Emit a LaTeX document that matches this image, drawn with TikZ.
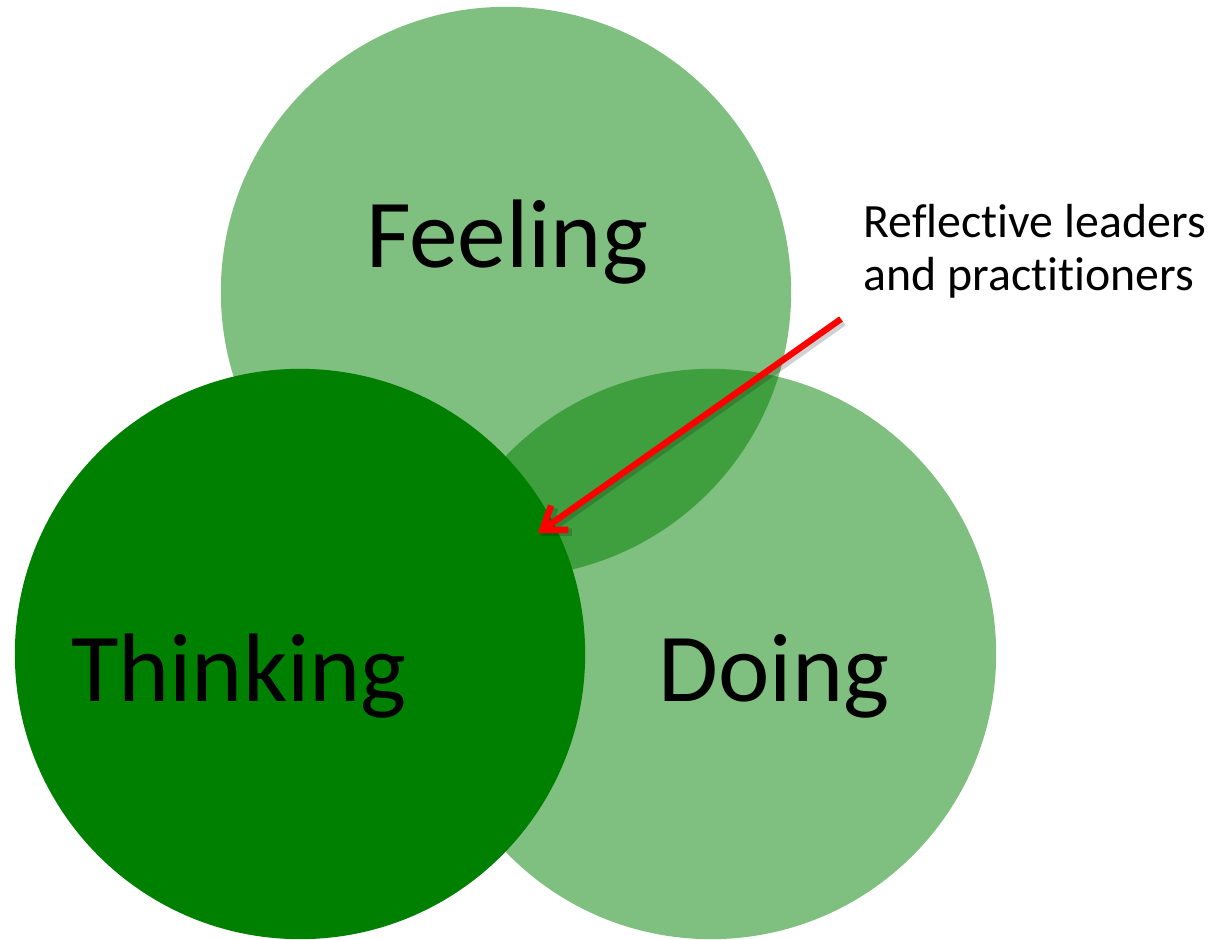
\documentclass[tikz,border=0pt]{standalone}
\usepackage{fontspec}
\setmainfont{Carlito}[Ligatures=NoCommon]
\usetikzlibrary{arrows.meta}

\tikzset{
    ring/.style={circle, minimum size=5.7cm, inner sep=0pt, draw=none},
    soft ring/.style={ring, fill=green!50!black, fill opacity=0.5},
    bold ring/.style={ring, fill=green!50!black},
    big label/.style={font=\fontsize{27.7}{33}\selectfont, text=black, inner sep=0pt},
    note/.style={font=\fontsize{13.6}{15.1}\selectfont, align=left, inner sep=0pt},
    pointer/.style={draw=red, line width=1.8pt, -{Straight Barb[length=6pt,width=8.5pt]},
        preaction={draw=black, draw opacity=0.18, line width=2.2pt, transform canvas={shift={(0.7pt,-0.9pt)}}}},
}

\begin{document}
\begin{tikzpicture}[x=0.01cm, y=-0.01cm]
    \useasboundingbox (0,0) rectangle (1212,940);
    % the three circles
    \node [soft ring] (feel) at (506,292) {};
    \node [soft ring] (do) at (711,654) {};
    \node [bold ring] (think) at (300,654) {};

    % circle labels
    \node [big label, anchor=base] (feellab) at (507,268) {Feeling};
    \node [big label, anchor=base] (thinklab) at (239,701) {Thinking};
    \node [big label, anchor=base] (dolab) at (774,701) {Doing};

    % note and pointer
    \node [note, anchor=base west] (reflect) at (863,291) {Reflective leaders\\and practitioners};
    \coordinate (tail) at (841,319);
    \coordinate (tip) at (538,533);
    \draw [pointer] (tail) -- (tip);
\end{tikzpicture}
\end{document}
